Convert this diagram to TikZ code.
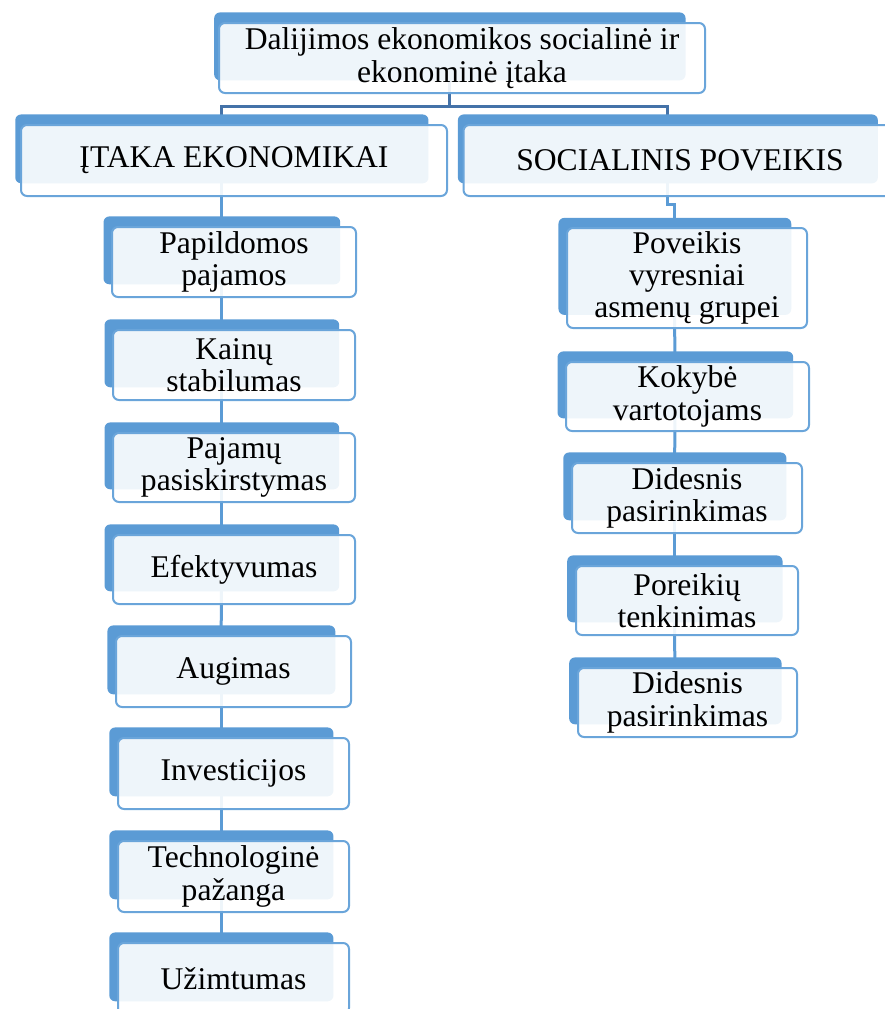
\documentclass[tikz,border=0pt]{standalone}
\usepackage{fontspec}
\setmainfont{Liberation Serif}
\usetikzlibrary{shadows,backgrounds}
\definecolor{backblue}{HTML}{5B9BD5}
\definecolor{boxline}{HTML}{6AA5DA}
\definecolor{topblue}{HTML}{4472A8}
\tikzset{
  box/.style={draw=boxline, line width=1pt, rounded corners=3pt, fill=white, fill opacity=0.9, text opacity=1,
    align=center, inner sep=0pt, font=\fontsize{15.8}{16.2}\selectfont,
    general shadow={fill=backblue, fill opacity=1, draw=none, shadow xshift=-6.25pt, shadow yshift=6pt, shadow scale=0.97}},
  topline/.style={draw=topblue, line width=1.5pt},
  colline/.style={draw=backblue, line width=1.5pt}
}
\begin{document}
\begin{tikzpicture}[x=0.5pt, y=-0.5pt]
\useasboundingbox (0,0) rectangle (885,1009);
\node[box, minimum width=243pt, minimum height=35pt] (top) at (462,58) {Dalijimos ekonomikos socialinė ir\\ekonominė įtaka};
\node[box, minimum width=213pt, minimum height=35.5pt] (itaka) at (234,160.5) {ĮTAKA EKONOMIKAI};
\node[box, minimum width=216.5pt, minimum height=35.5pt] (soc) at (680,160.5) {SOCIALINIS POVEIKIS};
\node[box, minimum width=122pt, minimum height=35pt] (pap) at (234,262) {Papildomos\\pajamos};
\node[box, minimum width=121pt, minimum height=35pt] (kai) at (234,365) {Kainų\\stabilumas};
\node[box, minimum width=121pt, minimum height=34.5pt] (paj) at (234,467.5) {Pajamų\\pasiskirstymas};
\node[box, minimum width=121pt, minimum height=34.5pt] (efe) at (234,569.5) {Efektyvumas};
\node[box, minimum width=117.5pt, minimum height=35.5pt] (aug) at (233.5,671.5) {Augimas};
\node[box, minimum width=115.5pt, minimum height=35.5pt] (inv) at (233.5,773.5) {Investicijos};
\node[box, minimum width=115.5pt, minimum height=35.5pt] (tec) at (233.5,876.5) {Technologinė\\pažanga};
\node[box, minimum width=115.5pt, minimum height=35.5pt] (uzi) at (233.5,978.5) {Užimtumas};
\node[box, minimum width=120pt, minimum height=50pt] (pov) at (687,278) {Poveikis\\vyresniai\\asmenų grupei};
\node[box, minimum width=121.5pt, minimum height=34.5pt] (kok) at (687.5,396.5) {Kokybė\\vartotojams};
\node[box, minimum width=115pt, minimum height=35pt] (did1) at (687,498) {Didesnis\\pasirinkimas};
\node[box, minimum width=111pt, minimum height=34.5pt] (por) at (687,600.5) {Poreikių\\tenkinimas};
\node[box, minimum width=109.5pt, minimum height=34.5pt] (did2) at (687.5,702.5) {Didesnis\\pasirinkimas};
\coordinate (fork) at (449.5,106);
\begin{scope}[on background layer]
% top level
\draw[topline] ([xshift=-6.25pt]top.center) -- (fork);
\draw[topline] (fork) -| ([xshift=-6.25pt]itaka.center);
\draw[topline] (fork) -| ([xshift=-6.25pt]soc.center);
% left column
\path[colline] ([xshift=-6.25pt]itaka.center) edge ([xshift=-6.25pt]pap.center);
\path[colline] ([xshift=-6.25pt]pap.center) edge ([xshift=-6.25pt]kai.center);
\path[colline] ([xshift=-6.25pt]kai.center) edge ([xshift=-6.25pt]paj.center);
\path[colline] ([xshift=-6.25pt]paj.center) edge ([xshift=-6.25pt]efe.center);
\path[colline] ([xshift=-6.25pt]efe.center) edge ([xshift=-6.25pt]aug.center);
\path[colline] ([xshift=-6.25pt]aug.center) edge ([xshift=-6.25pt]inv.center);
\path[colline] ([xshift=-6.25pt]inv.center) edge ([xshift=-6.25pt]tec.center);
\path[colline] ([xshift=-6.25pt]tec.center) edge ([xshift=-6.25pt]uzi.center);
% right column
\draw[colline] ([xshift=-6.25pt]soc.center) -- ([xshift=-6.25pt]soc.south) -- ++(0,-3.5pt) -| ([xshift=-6.25pt]pov.center);
\path[colline] ([xshift=-6.25pt]pov.center) edge ([xshift=-6.25pt]kok.center);
\path[colline] ([xshift=-6.25pt]kok.center) edge ([xshift=-6.25pt]did1.center);
\path[colline] ([xshift=-6.25pt]did1.center) edge ([xshift=-6.25pt]por.center);
\path[colline] ([xshift=-6.25pt]por.center) edge ([xshift=-6.25pt]did2.center);
\end{scope}
\end{tikzpicture}
\end{document}
